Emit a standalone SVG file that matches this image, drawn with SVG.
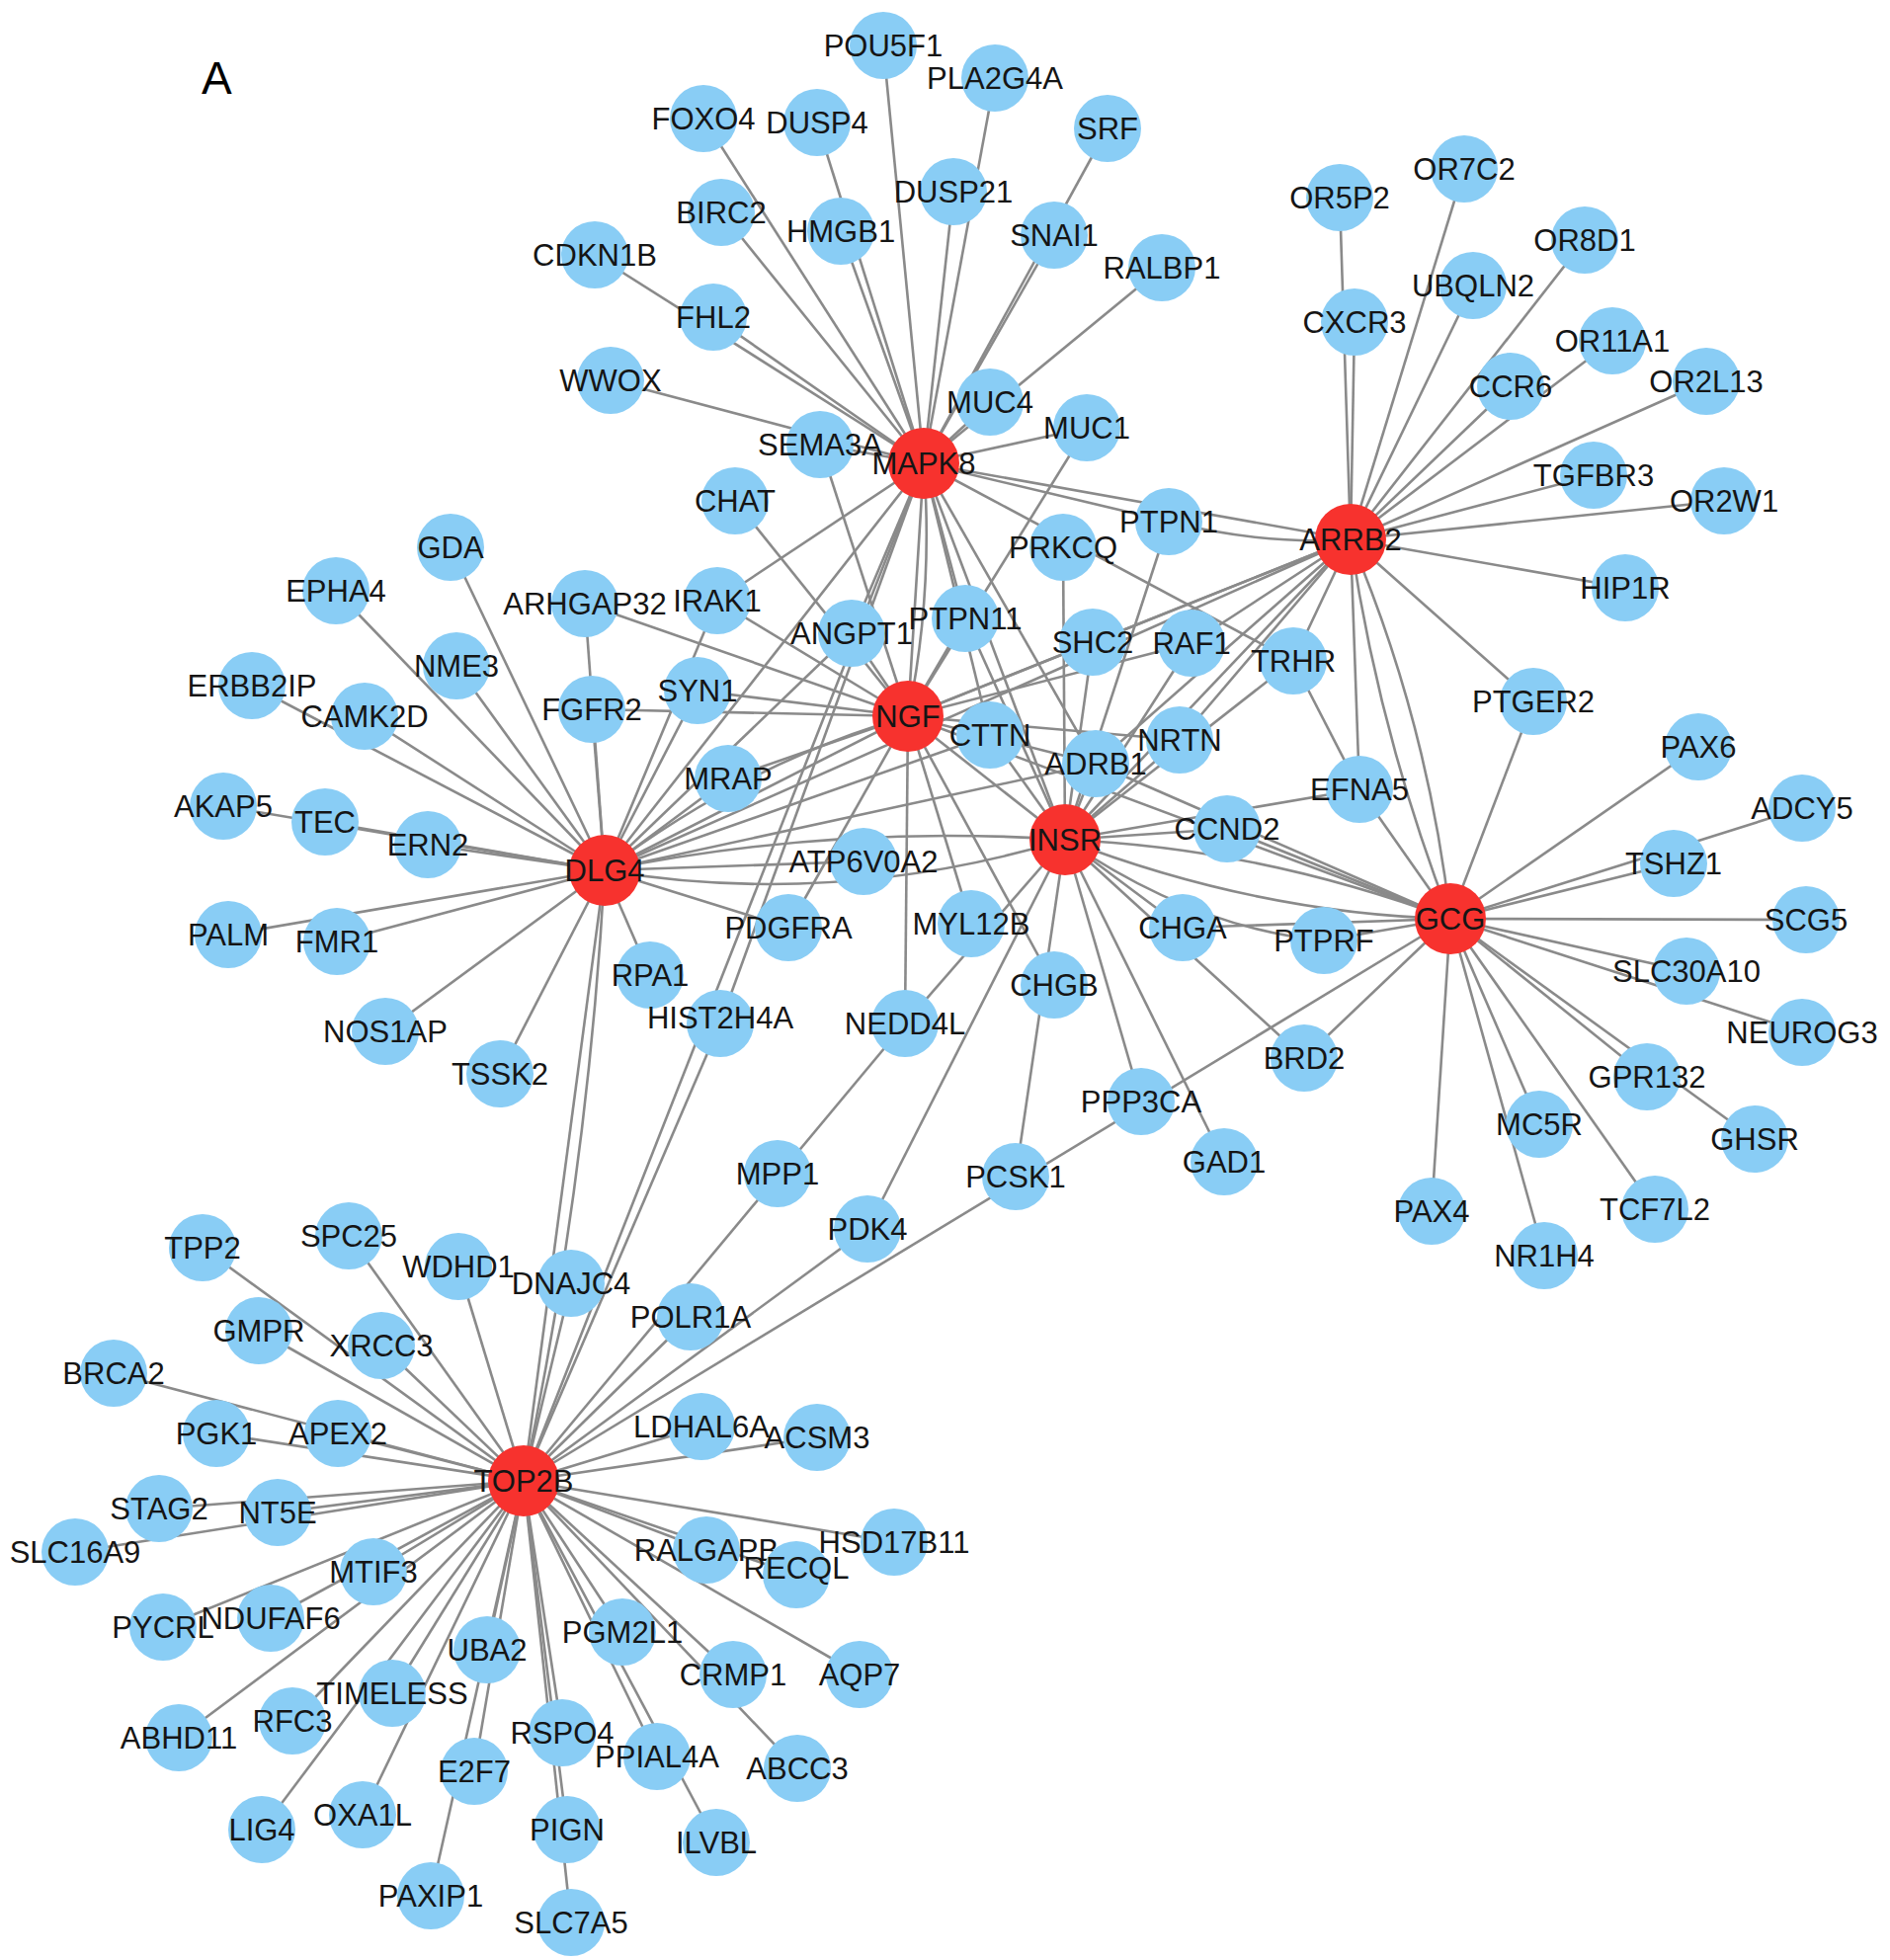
<svg xmlns="http://www.w3.org/2000/svg" width="1913" height="1984" viewBox="0 0 1913 1984">
<style>
.e{stroke:#8a8a8a;stroke-width:2.6;fill:none}
.b{fill:#89cdf5}
.r{fill:#f7322e}
.t{font-family:"Liberation Sans",Arial,sans-serif;font-size:31px;fill:#151515;text-anchor:middle}
.h{font-family:"Liberation Sans",Arial,sans-serif;font-size:46px;fill:#000}
</style>
<rect width="1913" height="1984" fill="#fff"/>
<text class="h" x="204" y="95">A</text>
<g id="edges">
<line class="e" x1="935" y1="469" x2="894" y2="46"/>
<line class="e" x1="935" y1="469" x2="1007" y2="79"/>
<line class="e" x1="935" y1="469" x2="965" y2="194"/>
<line class="e" x1="935" y1="469" x2="712" y2="120"/>
<line class="e" x1="935" y1="469" x2="827" y2="124"/>
<line class="e" x1="935" y1="469" x2="851" y2="234"/>
<line class="e" x1="935" y1="469" x2="730" y2="215"/>
<line class="e" x1="935" y1="469" x2="1121" y2="130"/>
<line class="e" x1="935" y1="469" x2="1067" y2="238"/>
<line class="e" x1="935" y1="469" x2="1176" y2="271"/>
<line class="e" x1="935" y1="469" x2="602" y2="258"/>
<line class="e" x1="935" y1="469" x2="722" y2="321"/>
<line class="e" x1="935" y1="469" x2="618" y2="385"/>
<line class="e" x1="935" y1="469" x2="830" y2="450"/>
<line class="e" x1="935" y1="469" x2="1002" y2="407"/>
<line class="e" x1="935" y1="469" x2="1100" y2="433"/>
<line class="e" x1="935" y1="469" x2="1183" y2="528"/>
<line class="e" x1="935" y1="469" x2="1367" y2="546"/>
<line class="e" x1="935" y1="469" x2="919" y2="725"/>
<path class="e" d="M935 469Q945 600 919 725"/>
<line class="e" x1="935" y1="469" x2="1078" y2="850"/>
<line class="e" x1="935" y1="469" x2="612" y2="881"/>
<line class="e" x1="935" y1="469" x2="1002" y2="744"/>
<line class="e" x1="935" y1="469" x2="977" y2="626"/>
<line class="e" x1="935" y1="469" x2="862" y2="641"/>
<line class="e" x1="935" y1="469" x2="1109" y2="773"/>
<line class="e" x1="935" y1="469" x2="726" y2="608"/>
<line class="e" x1="935" y1="469" x2="1309" y2="669"/>
<line class="e" x1="935" y1="469" x2="729" y2="1036"/>
<line class="e" x1="935" y1="469" x2="530" y2="1499"/>
<line class="e" x1="1367" y1="546" x2="1482" y2="171"/>
<line class="e" x1="1367" y1="546" x2="1356" y2="200"/>
<line class="e" x1="1367" y1="546" x2="1371" y2="326"/>
<line class="e" x1="1367" y1="546" x2="1604" y2="243"/>
<line class="e" x1="1367" y1="546" x2="1491" y2="289"/>
<line class="e" x1="1367" y1="546" x2="1632" y2="345"/>
<line class="e" x1="1367" y1="546" x2="1529" y2="391"/>
<line class="e" x1="1367" y1="546" x2="1727" y2="386"/>
<line class="e" x1="1367" y1="546" x2="1613" y2="481"/>
<line class="e" x1="1367" y1="546" x2="1745" y2="507"/>
<line class="e" x1="1367" y1="546" x2="1645" y2="595"/>
<line class="e" x1="1367" y1="546" x2="1552" y2="710"/>
<path class="e" d="M1367 546Q1395 740 1468 930"/>
<path class="e" d="M1367 546Q1445 730 1468 930"/>
<line class="e" x1="1367" y1="546" x2="1376" y2="799"/>
<line class="e" x1="1367" y1="546" x2="1309" y2="669"/>
<path class="e" d="M1183 528Q1280 552 1367 546"/>
<line class="e" x1="1367" y1="546" x2="919" y2="725"/>
<line class="e" x1="1367" y1="546" x2="1078" y2="850"/>
<line class="e" x1="1367" y1="546" x2="1206" y2="651"/>
<line class="e" x1="1367" y1="546" x2="1109" y2="773"/>
<line class="e" x1="1367" y1="546" x2="612" y2="881"/>
<line class="e" x1="1367" y1="546" x2="1106" y2="650"/>
<line class="e" x1="1367" y1="546" x2="1194" y2="749"/>
<line class="e" x1="919" y1="725" x2="706" y2="699"/>
<line class="e" x1="919" y1="725" x2="599" y2="718"/>
<line class="e" x1="919" y1="725" x2="726" y2="608"/>
<line class="e" x1="919" y1="725" x2="592" y2="611"/>
<line class="e" x1="919" y1="725" x2="744" y2="507"/>
<line class="e" x1="919" y1="725" x2="862" y2="641"/>
<line class="e" x1="919" y1="725" x2="977" y2="626"/>
<line class="e" x1="919" y1="725" x2="1106" y2="650"/>
<line class="e" x1="919" y1="725" x2="1206" y2="651"/>
<line class="e" x1="919" y1="725" x2="1194" y2="749"/>
<line class="e" x1="919" y1="725" x2="1109" y2="773"/>
<line class="e" x1="919" y1="725" x2="1078" y2="850"/>
<line class="e" x1="919" y1="725" x2="737" y2="788"/>
<line class="e" x1="919" y1="725" x2="612" y2="881"/>
<path class="e" d="M919 725Q760 770 612 881"/>
<line class="e" x1="919" y1="725" x2="798" y2="939"/>
<line class="e" x1="919" y1="725" x2="983" y2="935"/>
<line class="e" x1="919" y1="725" x2="916" y2="1036"/>
<line class="e" x1="919" y1="725" x2="1067" y2="997"/>
<line class="e" x1="919" y1="725" x2="830" y2="450"/>
<line class="e" x1="919" y1="725" x2="1100" y2="433"/>
<line class="e" x1="919" y1="725" x2="1468" y2="930"/>
<line class="e" x1="612" y1="881" x2="456" y2="554"/>
<line class="e" x1="612" y1="881" x2="340" y2="598"/>
<line class="e" x1="612" y1="881" x2="462" y2="674"/>
<line class="e" x1="612" y1="881" x2="592" y2="611"/>
<line class="e" x1="612" y1="881" x2="599" y2="718"/>
<line class="e" x1="612" y1="881" x2="255" y2="694"/>
<line class="e" x1="612" y1="881" x2="369" y2="725"/>
<line class="e" x1="612" y1="881" x2="226" y2="816"/>
<line class="e" x1="612" y1="881" x2="329" y2="832"/>
<line class="e" x1="612" y1="881" x2="433" y2="855"/>
<line class="e" x1="612" y1="881" x2="231" y2="946"/>
<line class="e" x1="612" y1="881" x2="341" y2="953"/>
<line class="e" x1="612" y1="881" x2="390" y2="1044"/>
<line class="e" x1="612" y1="881" x2="506" y2="1087"/>
<line class="e" x1="612" y1="881" x2="530" y2="1499"/>
<path class="e" d="M612 881Q595 1190 530 1499"/>
<line class="e" x1="612" y1="881" x2="658" y2="987"/>
<line class="e" x1="612" y1="881" x2="706" y2="699"/>
<line class="e" x1="612" y1="881" x2="726" y2="608"/>
<line class="e" x1="612" y1="881" x2="737" y2="788"/>
<line class="e" x1="612" y1="881" x2="1002" y2="744"/>
<line class="e" x1="612" y1="881" x2="1109" y2="773"/>
<line class="e" x1="612" y1="881" x2="874" y2="872"/>
<path class="e" d="M612 881Q845 834 1078 850"/>
<path class="e" d="M612 881Q845 920 1078 850"/>
<line class="e" x1="612" y1="881" x2="798" y2="939"/>
<line class="e" x1="612" y1="881" x2="862" y2="641"/>
<line class="e" x1="1078" y1="850" x2="1002" y2="744"/>
<line class="e" x1="1078" y1="850" x2="977" y2="626"/>
<line class="e" x1="1078" y1="850" x2="1106" y2="650"/>
<line class="e" x1="1078" y1="850" x2="1206" y2="651"/>
<line class="e" x1="1078" y1="850" x2="1194" y2="749"/>
<line class="e" x1="1078" y1="850" x2="1109" y2="773"/>
<line class="e" x1="1078" y1="850" x2="1242" y2="839"/>
<line class="e" x1="1078" y1="850" x2="1376" y2="799"/>
<line class="e" x1="1078" y1="850" x2="1197" y2="939"/>
<path class="e" d="M1078 850Q1210 940 1340 952"/>
<line class="e" x1="1078" y1="850" x2="1320" y2="1071"/>
<line class="e" x1="1078" y1="850" x2="1155" y2="1115"/>
<line class="e" x1="1078" y1="850" x2="1239" y2="1176"/>
<line class="e" x1="1078" y1="850" x2="1028" y2="1191"/>
<line class="e" x1="1078" y1="850" x2="916" y2="1036"/>
<line class="e" x1="1078" y1="850" x2="878" y2="1244"/>
<line class="e" x1="1078" y1="850" x2="1183" y2="528"/>
<line class="e" x1="1078" y1="850" x2="1076" y2="554"/>
<line class="e" x1="1078" y1="850" x2="1309" y2="669"/>
<path class="e" d="M1078 850Q1273 858 1468 930"/>
<path class="e" d="M1078 850Q1273 925 1468 930"/>
<line class="e" x1="1468" y1="930" x2="1552" y2="710"/>
<line class="e" x1="1468" y1="930" x2="1376" y2="799"/>
<line class="e" x1="1468" y1="930" x2="1719" y2="756"/>
<line class="e" x1="1468" y1="930" x2="1824" y2="818"/>
<line class="e" x1="1468" y1="930" x2="1694" y2="874"/>
<line class="e" x1="1468" y1="930" x2="1828" y2="931"/>
<line class="e" x1="1468" y1="930" x2="1707" y2="983"/>
<line class="e" x1="1468" y1="930" x2="1824" y2="1045"/>
<line class="e" x1="1468" y1="930" x2="1667" y2="1090"/>
<line class="e" x1="1468" y1="930" x2="1776" y2="1153"/>
<line class="e" x1="1468" y1="930" x2="1558" y2="1138"/>
<line class="e" x1="1468" y1="930" x2="1675" y2="1224"/>
<line class="e" x1="1468" y1="930" x2="1563" y2="1271"/>
<line class="e" x1="1468" y1="930" x2="1449" y2="1226"/>
<line class="e" x1="1468" y1="930" x2="1320" y2="1071"/>
<line class="e" x1="1468" y1="930" x2="530" y2="1499"/>
<line class="e" x1="1468" y1="930" x2="1340" y2="952"/>
<line class="e" x1="1468" y1="930" x2="1197" y2="939"/>
<line class="e" x1="1468" y1="930" x2="1242" y2="839"/>
<line class="e" x1="1468" y1="930" x2="1109" y2="773"/>
<line class="e" x1="1309" y1="669" x2="1376" y2="799"/>
<line class="e" x1="530" y1="1499" x2="205" y2="1263"/>
<line class="e" x1="530" y1="1499" x2="353" y2="1251"/>
<line class="e" x1="530" y1="1499" x2="464" y2="1282"/>
<line class="e" x1="530" y1="1499" x2="578" y2="1299"/>
<line class="e" x1="530" y1="1499" x2="699" y2="1333"/>
<line class="e" x1="530" y1="1499" x2="262" y2="1347"/>
<line class="e" x1="530" y1="1499" x2="386" y2="1362"/>
<line class="e" x1="530" y1="1499" x2="115" y2="1390"/>
<line class="e" x1="530" y1="1499" x2="219" y2="1451"/>
<line class="e" x1="530" y1="1499" x2="342" y2="1451"/>
<line class="e" x1="530" y1="1499" x2="710" y2="1444"/>
<line class="e" x1="530" y1="1499" x2="827" y2="1455"/>
<line class="e" x1="530" y1="1499" x2="161" y2="1527"/>
<line class="e" x1="530" y1="1499" x2="281" y2="1531"/>
<line class="e" x1="530" y1="1499" x2="76" y2="1571"/>
<line class="e" x1="530" y1="1499" x2="905" y2="1561"/>
<line class="e" x1="530" y1="1499" x2="715" y2="1569"/>
<line class="e" x1="530" y1="1499" x2="806" y2="1594"/>
<line class="e" x1="530" y1="1499" x2="378" y2="1591"/>
<line class="e" x1="530" y1="1499" x2="274" y2="1638"/>
<line class="e" x1="530" y1="1499" x2="165" y2="1647"/>
<line class="e" x1="530" y1="1499" x2="493" y2="1670"/>
<line class="e" x1="530" y1="1499" x2="630" y2="1652"/>
<line class="e" x1="530" y1="1499" x2="742" y2="1695"/>
<line class="e" x1="530" y1="1499" x2="870" y2="1695"/>
<line class="e" x1="530" y1="1499" x2="397" y2="1714"/>
<line class="e" x1="530" y1="1499" x2="296" y2="1742"/>
<line class="e" x1="530" y1="1499" x2="181" y2="1759"/>
<line class="e" x1="530" y1="1499" x2="569" y2="1754"/>
<line class="e" x1="530" y1="1499" x2="665" y2="1778"/>
<line class="e" x1="530" y1="1499" x2="807" y2="1790"/>
<line class="e" x1="530" y1="1499" x2="480" y2="1793"/>
<line class="e" x1="530" y1="1499" x2="265" y2="1852"/>
<line class="e" x1="530" y1="1499" x2="367" y2="1837"/>
<line class="e" x1="530" y1="1499" x2="574" y2="1852"/>
<line class="e" x1="530" y1="1499" x2="725" y2="1865"/>
<line class="e" x1="530" y1="1499" x2="436" y2="1919"/>
<line class="e" x1="530" y1="1499" x2="578" y2="1946"/>
<line class="e" x1="530" y1="1499" x2="916" y2="1036"/>
<line class="e" x1="530" y1="1499" x2="878" y2="1244"/>
<line class="e" x1="530" y1="1499" x2="729" y2="1036"/>
</g>
<g id="n-POU5F1"><circle class="b" cx="894" cy="46" r="34"/><text class="t" x="894" y="57">POU5F1</text></g>
<g id="n-PLA2G4A"><circle class="b" cx="1007" cy="79" r="34"/><text class="t" x="1007" y="90">PLA2G4A</text></g>
<g id="n-FOXO4"><circle class="b" cx="712" cy="120" r="34"/><text class="t" x="712" y="131">FOXO4</text></g>
<g id="n-DUSP4"><circle class="b" cx="827" cy="124" r="34"/><text class="t" x="827" y="135">DUSP4</text></g>
<g id="n-SRF"><circle class="b" cx="1121" cy="130" r="34"/><text class="t" x="1121" y="141">SRF</text></g>
<g id="n-DUSP21"><circle class="b" cx="965" cy="194" r="34"/><text class="t" x="965" y="205">DUSP21</text></g>
<g id="n-BIRC2"><circle class="b" cx="730" cy="215" r="34"/><text class="t" x="730" y="226">BIRC2</text></g>
<g id="n-HMGB1"><circle class="b" cx="851" cy="234" r="34"/><text class="t" x="851" y="245">HMGB1</text></g>
<g id="n-SNAI1"><circle class="b" cx="1067" cy="238" r="34"/><text class="t" x="1067" y="249">SNAI1</text></g>
<g id="n-RALBP1"><circle class="b" cx="1176" cy="271" r="34"/><text class="t" x="1176" y="282">RALBP1</text></g>
<g id="n-CDKN1B"><circle class="b" cx="602" cy="258" r="34"/><text class="t" x="602" y="269">CDKN1B</text></g>
<g id="n-FHL2"><circle class="b" cx="722" cy="321" r="34"/><text class="t" x="722" y="332">FHL2</text></g>
<g id="n-WWOX"><circle class="b" cx="618" cy="385" r="34"/><text class="t" x="618" y="396">WWOX</text></g>
<g id="n-MUC4"><circle class="b" cx="1002" cy="407" r="34"/><text class="t" x="1002" y="418">MUC4</text></g>
<g id="n-MUC1"><circle class="b" cx="1100" cy="433" r="34"/><text class="t" x="1100" y="444">MUC1</text></g>
<g id="n-SEMA3A"><circle class="b" cx="830" cy="450" r="34"/><text class="t" x="830" y="461">SEMA3A</text></g>
<g id="n-MAPK8"><circle class="r" cx="935" cy="469" r="36"/><text class="t" x="935" y="480">MAPK8</text></g>
<g id="n-OR7C2"><circle class="b" cx="1482" cy="171" r="34"/><text class="t" x="1482" y="182">OR7C2</text></g>
<g id="n-OR5P2"><circle class="b" cx="1356" cy="200" r="34"/><text class="t" x="1356" y="211">OR5P2</text></g>
<g id="n-OR8D1"><circle class="b" cx="1604" cy="243" r="34"/><text class="t" x="1604" y="254">OR8D1</text></g>
<g id="n-UBQLN2"><circle class="b" cx="1491" cy="289" r="34"/><text class="t" x="1491" y="300">UBQLN2</text></g>
<g id="n-CXCR3"><circle class="b" cx="1371" cy="326" r="34"/><text class="t" x="1371" y="337">CXCR3</text></g>
<g id="n-OR11A1"><circle class="b" cx="1632" cy="345" r="34"/><text class="t" x="1632" y="356">OR11A1</text></g>
<g id="n-CCR6"><circle class="b" cx="1529" cy="391" r="34"/><text class="t" x="1529" y="402">CCR6</text></g>
<g id="n-OR2L13"><circle class="b" cx="1727" cy="386" r="34"/><text class="t" x="1727" y="397">OR2L13</text></g>
<g id="n-TGFBR3"><circle class="b" cx="1613" cy="481" r="34"/><text class="t" x="1613" y="492">TGFBR3</text></g>
<g id="n-OR2W1"><circle class="b" cx="1745" cy="507" r="34"/><text class="t" x="1745" y="518">OR2W1</text></g>
<g id="n-HIP1R"><circle class="b" cx="1645" cy="595" r="34"/><text class="t" x="1645" y="606">HIP1R</text></g>
<g id="n-PTPN1"><circle class="b" cx="1183" cy="528" r="34"/><text class="t" x="1183" y="539">PTPN1</text></g>
<g id="n-PRKCQ"><circle class="b" cx="1076" cy="554" r="34"/><text class="t" x="1076" y="565">PRKCQ</text></g>
<g id="n-ARRB2"><circle class="r" cx="1367" cy="546" r="36"/><text class="t" x="1367" y="557">ARRB2</text></g>
<g id="n-CHAT"><circle class="b" cx="744" cy="507" r="34"/><text class="t" x="744" y="518">CHAT</text></g>
<g id="n-GDA"><circle class="b" cx="456" cy="554" r="34"/><text class="t" x="456" y="565">GDA</text></g>
<g id="n-EPHA4"><circle class="b" cx="340" cy="598" r="34"/><text class="t" x="340" y="609">EPHA4</text></g>
<g id="n-ARHGAP32"><circle class="b" cx="592" cy="611" r="34"/><text class="t" x="592" y="622">ARHGAP32</text></g>
<g id="n-IRAK1"><circle class="b" cx="726" cy="608" r="34"/><text class="t" x="726" y="619">IRAK1</text></g>
<g id="n-ANGPT1"><circle class="b" cx="862" cy="641" r="34"/><text class="t" x="862" y="652">ANGPT1</text></g>
<g id="n-PTPN11"><circle class="b" cx="977" cy="626" r="34"/><text class="t" x="977" y="637">PTPN11</text></g>
<g id="n-SHC2"><circle class="b" cx="1106" cy="650" r="34"/><text class="t" x="1106" y="661">SHC2</text></g>
<g id="n-RAF1"><circle class="b" cx="1206" cy="651" r="34"/><text class="t" x="1206" y="662">RAF1</text></g>
<g id="n-TRHR"><circle class="b" cx="1309" cy="669" r="34"/><text class="t" x="1309" y="680">TRHR</text></g>
<g id="n-NME3"><circle class="b" cx="462" cy="674" r="34"/><text class="t" x="462" y="685">NME3</text></g>
<g id="n-ERBB2IP"><circle class="b" cx="255" cy="694" r="34"/><text class="t" x="255" y="705">ERBB2IP</text></g>
<g id="n-CAMK2D"><circle class="b" cx="369" cy="725" r="34"/><text class="t" x="369" y="736">CAMK2D</text></g>
<g id="n-FGFR2"><circle class="b" cx="599" cy="718" r="34"/><text class="t" x="599" y="729">FGFR2</text></g>
<g id="n-SYN1"><circle class="b" cx="706" cy="699" r="34"/><text class="t" x="706" y="710">SYN1</text></g>
<g id="n-NGF"><circle class="r" cx="919" cy="725" r="36"/><text class="t" x="919" y="736">NGF</text></g>
<g id="n-CTTN"><circle class="b" cx="1002" cy="744" r="34"/><text class="t" x="1002" y="755">CTTN</text></g>
<g id="n-NRTN"><circle class="b" cx="1194" cy="749" r="34"/><text class="t" x="1194" y="760">NRTN</text></g>
<g id="n-ADRB1"><circle class="b" cx="1109" cy="773" r="34"/><text class="t" x="1109" y="784">ADRB1</text></g>
<g id="n-PTGER2"><circle class="b" cx="1552" cy="710" r="34"/><text class="t" x="1552" y="721">PTGER2</text></g>
<g id="n-EFNA5"><circle class="b" cx="1376" cy="799" r="34"/><text class="t" x="1376" y="810">EFNA5</text></g>
<g id="n-MRAP"><circle class="b" cx="737" cy="788" r="34"/><text class="t" x="737" y="799">MRAP</text></g>
<g id="n-AKAP5"><circle class="b" cx="226" cy="816" r="34"/><text class="t" x="226" y="827">AKAP5</text></g>
<g id="n-TEC"><circle class="b" cx="329" cy="832" r="34"/><text class="t" x="329" y="843">TEC</text></g>
<g id="n-ERN2"><circle class="b" cx="433" cy="855" r="34"/><text class="t" x="433" y="866">ERN2</text></g>
<g id="n-DLG4"><circle class="r" cx="612" cy="881" r="36"/><text class="t" x="612" y="892">DLG4</text></g>
<g id="n-ATP6V0A2"><circle class="b" cx="874" cy="872" r="34"/><text class="t" x="874" y="883">ATP6V0A2</text></g>
<g id="n-INSR"><circle class="r" cx="1078" cy="850" r="36"/><text class="t" x="1078" y="861">INSR</text></g>
<g id="n-CCND2"><circle class="b" cx="1242" cy="839" r="34"/><text class="t" x="1242" y="850">CCND2</text></g>
<g id="n-PAX6"><circle class="b" cx="1719" cy="756" r="34"/><text class="t" x="1719" y="767">PAX6</text></g>
<g id="n-ADCY5"><circle class="b" cx="1824" cy="818" r="34"/><text class="t" x="1824" y="829">ADCY5</text></g>
<g id="n-TSHZ1"><circle class="b" cx="1694" cy="874" r="34"/><text class="t" x="1694" y="885">TSHZ1</text></g>
<g id="n-GCG"><circle class="r" cx="1468" cy="930" r="36"/><text class="t" x="1468" y="941">GCG</text></g>
<g id="n-SCG5"><circle class="b" cx="1828" cy="931" r="34"/><text class="t" x="1828" y="942">SCG5</text></g>
<g id="n-PALM"><circle class="b" cx="231" cy="946" r="34"/><text class="t" x="231" y="957">PALM</text></g>
<g id="n-FMR1"><circle class="b" cx="341" cy="953" r="34"/><text class="t" x="341" y="964">FMR1</text></g>
<g id="n-PDGFRA"><circle class="b" cx="798" cy="939" r="34"/><text class="t" x="798" y="950">PDGFRA</text></g>
<g id="n-MYL12B"><circle class="b" cx="983" cy="935" r="34"/><text class="t" x="983" y="946">MYL12B</text></g>
<g id="n-CHGA"><circle class="b" cx="1197" cy="939" r="34"/><text class="t" x="1197" y="950">CHGA</text></g>
<g id="n-PTPRF"><circle class="b" cx="1340" cy="952" r="34"/><text class="t" x="1340" y="963">PTPRF</text></g>
<g id="n-SLC30A10"><circle class="b" cx="1707" cy="983" r="34"/><text class="t" x="1707" y="994">SLC30A10</text></g>
<g id="n-RPA1"><circle class="b" cx="658" cy="987" r="34"/><text class="t" x="658" y="998">RPA1</text></g>
<g id="n-HIST2H4A"><circle class="b" cx="729" cy="1036" r="34"/><text class="t" x="729" y="1041">HIST2H4A</text></g>
<g id="n-NEDD4L"><circle class="b" cx="916" cy="1036" r="34"/><text class="t" x="916" y="1047">NEDD4L</text></g>
<g id="n-CHGB"><circle class="b" cx="1067" cy="997" r="34"/><text class="t" x="1067" y="1008">CHGB</text></g>
<g id="n-NOS1AP"><circle class="b" cx="390" cy="1044" r="34"/><text class="t" x="390" y="1055">NOS1AP</text></g>
<g id="n-TSSK2"><circle class="b" cx="506" cy="1087" r="34"/><text class="t" x="506" y="1098">TSSK2</text></g>
<g id="n-BRD2"><circle class="b" cx="1320" cy="1071" r="34"/><text class="t" x="1320" y="1082">BRD2</text></g>
<g id="n-NEUROG3"><circle class="b" cx="1824" cy="1045" r="34"/><text class="t" x="1824" y="1056">NEUROG3</text></g>
<g id="n-GPR132"><circle class="b" cx="1667" cy="1090" r="34"/><text class="t" x="1667" y="1101">GPR132</text></g>
<g id="n-PPP3CA"><circle class="b" cx="1155" cy="1115" r="34"/><text class="t" x="1155" y="1126">PPP3CA</text></g>
<g id="n-GAD1"><circle class="b" cx="1239" cy="1176" r="34"/><text class="t" x="1239" y="1187">GAD1</text></g>
<g id="n-MC5R"><circle class="b" cx="1558" cy="1138" r="34"/><text class="t" x="1558" y="1149">MC5R</text></g>
<g id="n-GHSR"><circle class="b" cx="1776" cy="1153" r="34"/><text class="t" x="1776" y="1164">GHSR</text></g>
<g id="n-MPP1"><circle class="b" cx="787" cy="1188" r="34"/><text class="t" x="787" y="1199">MPP1</text></g>
<g id="n-PCSK1"><circle class="b" cx="1028" cy="1191" r="34"/><text class="t" x="1028" y="1202">PCSK1</text></g>
<g id="n-PAX4"><circle class="b" cx="1449" cy="1226" r="34"/><text class="t" x="1449" y="1237">PAX4</text></g>
<g id="n-TCF7L2"><circle class="b" cx="1675" cy="1224" r="34"/><text class="t" x="1675" y="1235">TCF7L2</text></g>
<g id="n-NR1H4"><circle class="b" cx="1563" cy="1271" r="34"/><text class="t" x="1563" y="1282">NR1H4</text></g>
<g id="n-PDK4"><circle class="b" cx="878" cy="1244" r="34"/><text class="t" x="878" y="1255">PDK4</text></g>
<g id="n-TPP2"><circle class="b" cx="205" cy="1263" r="34"/><text class="t" x="205" y="1274">TPP2</text></g>
<g id="n-SPC25"><circle class="b" cx="353" cy="1251" r="34"/><text class="t" x="353" y="1262">SPC25</text></g>
<g id="n-WDHD1"><circle class="b" cx="464" cy="1282" r="34"/><text class="t" x="464" y="1293">WDHD1</text></g>
<g id="n-DNAJC4"><circle class="b" cx="578" cy="1299" r="34"/><text class="t" x="578" y="1310">DNAJC4</text></g>
<g id="n-POLR1A"><circle class="b" cx="699" cy="1333" r="34"/><text class="t" x="699" y="1344">POLR1A</text></g>
<g id="n-GMPR"><circle class="b" cx="262" cy="1347" r="34"/><text class="t" x="262" y="1358">GMPR</text></g>
<g id="n-XRCC3"><circle class="b" cx="386" cy="1362" r="34"/><text class="t" x="386" y="1373">XRCC3</text></g>
<g id="n-BRCA2"><circle class="b" cx="115" cy="1390" r="34"/><text class="t" x="115" y="1401">BRCA2</text></g>
<g id="n-PGK1"><circle class="b" cx="219" cy="1451" r="34"/><text class="t" x="219" y="1462">PGK1</text></g>
<g id="n-APEX2"><circle class="b" cx="342" cy="1451" r="34"/><text class="t" x="342" y="1462">APEX2</text></g>
<g id="n-LDHAL6A"><circle class="b" cx="710" cy="1444" r="34"/><text class="t" x="710" y="1455">LDHAL6A</text></g>
<g id="n-ACSM3"><circle class="b" cx="827" cy="1455" r="34"/><text class="t" x="827" y="1466">ACSM3</text></g>
<g id="n-TOP2B"><circle class="r" cx="530" cy="1499" r="36"/><text class="t" x="530" y="1510">TOP2B</text></g>
<g id="n-STAG2"><circle class="b" cx="161" cy="1527" r="34"/><text class="t" x="161" y="1538">STAG2</text></g>
<g id="n-NT5E"><circle class="b" cx="281" cy="1531" r="34"/><text class="t" x="281" y="1542">NT5E</text></g>
<g id="n-SLC16A9"><circle class="b" cx="76" cy="1571" r="34"/><text class="t" x="76" y="1582">SLC16A9</text></g>
<g id="n-HSD17B11"><circle class="b" cx="905" cy="1561" r="34"/><text class="t" x="905" y="1572">HSD17B11</text></g>
<g id="n-RALGAPB"><circle class="b" cx="715" cy="1569" r="34"/><text class="t" x="715" y="1580">RALGAPB</text></g>
<g id="n-RECQL"><circle class="b" cx="806" cy="1594" r="34"/><text class="t" x="806" y="1598">RECQL</text></g>
<g id="n-MTIF3"><circle class="b" cx="378" cy="1591" r="34"/><text class="t" x="378" y="1602">MTIF3</text></g>
<g id="n-NDUFAF6"><circle class="b" cx="274" cy="1638" r="34"/><text class="t" x="274" y="1649">NDUFAF6</text></g>
<g id="n-PYCRL"><circle class="b" cx="165" cy="1647" r="34"/><text class="t" x="165" y="1658">PYCRL</text></g>
<g id="n-UBA2"><circle class="b" cx="493" cy="1670" r="34"/><text class="t" x="493" y="1681">UBA2</text></g>
<g id="n-PGM2L1"><circle class="b" cx="630" cy="1652" r="34"/><text class="t" x="630" y="1663">PGM2L1</text></g>
<g id="n-CRMP1"><circle class="b" cx="742" cy="1695" r="34"/><text class="t" x="742" y="1706">CRMP1</text></g>
<g id="n-AQP7"><circle class="b" cx="870" cy="1695" r="34"/><text class="t" x="870" y="1706">AQP7</text></g>
<g id="n-TIMELESS"><circle class="b" cx="397" cy="1714" r="34"/><text class="t" x="397" y="1725">TIMELESS</text></g>
<g id="n-RFC3"><circle class="b" cx="296" cy="1742" r="34"/><text class="t" x="296" y="1753">RFC3</text></g>
<g id="n-ABHD11"><circle class="b" cx="181" cy="1759" r="34"/><text class="t" x="181" y="1770">ABHD11</text></g>
<g id="n-RSPO4"><circle class="b" cx="569" cy="1754" r="34"/><text class="t" x="569" y="1765">RSPO4</text></g>
<g id="n-PPIAL4A"><circle class="b" cx="665" cy="1778" r="34"/><text class="t" x="665" y="1789">PPIAL4A</text></g>
<g id="n-ABCC3"><circle class="b" cx="807" cy="1790" r="34"/><text class="t" x="807" y="1801">ABCC3</text></g>
<g id="n-E2F7"><circle class="b" cx="480" cy="1793" r="34"/><text class="t" x="480" y="1804">E2F7</text></g>
<g id="n-LIG4"><circle class="b" cx="265" cy="1852" r="34"/><text class="t" x="265" y="1863">LIG4</text></g>
<g id="n-OXA1L"><circle class="b" cx="367" cy="1837" r="34"/><text class="t" x="367" y="1848">OXA1L</text></g>
<g id="n-PIGN"><circle class="b" cx="574" cy="1852" r="34"/><text class="t" x="574" y="1863">PIGN</text></g>
<g id="n-ILVBL"><circle class="b" cx="725" cy="1865" r="34"/><text class="t" x="725" y="1876">ILVBL</text></g>
<g id="n-PAXIP1"><circle class="b" cx="436" cy="1919" r="34"/><text class="t" x="436" y="1930">PAXIP1</text></g>
<g id="n-SLC7A5"><circle class="b" cx="578" cy="1946" r="34"/><text class="t" x="578" y="1957">SLC7A5</text></g>
</svg>
